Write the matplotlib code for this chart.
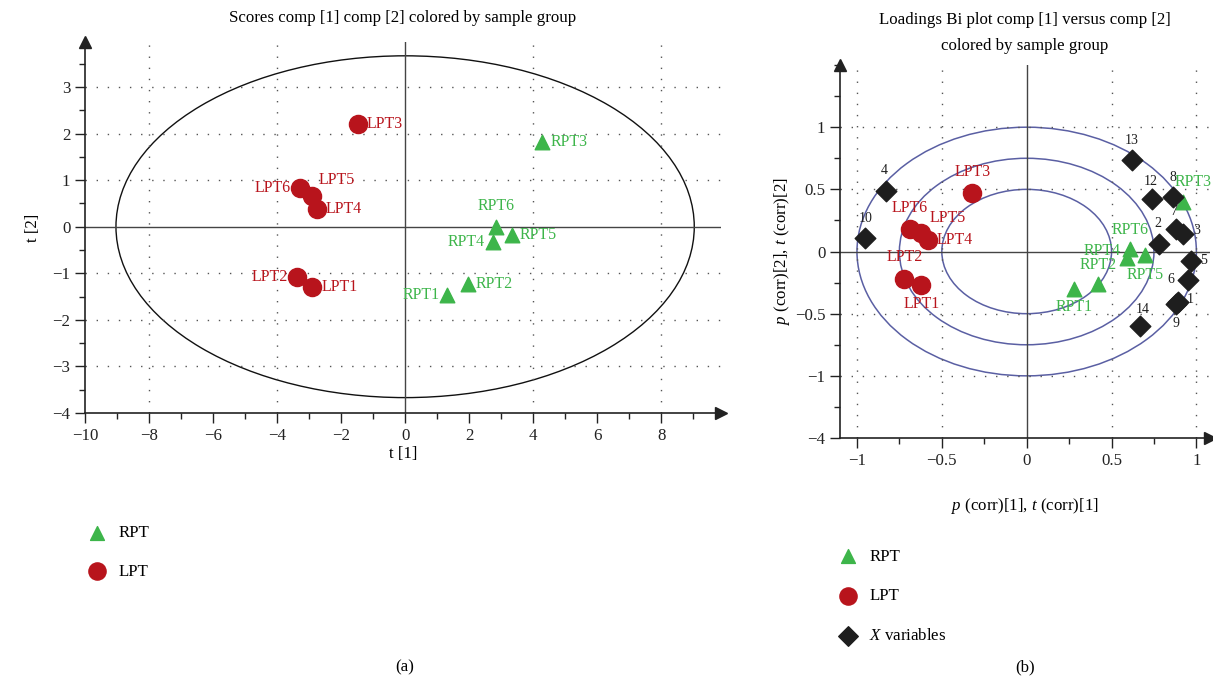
import numpy as np
import matplotlib
matplotlib.use("Agg")
import matplotlib.pyplot as plt
from matplotlib.patches import Ellipse
from matplotlib.ticker import MultipleLocator

plt.rcParams['font.family'] = ['Liberation Serif', 'DejaVu Serif']
plt.rcParams['mathtext.fontset'] = 'custom'
plt.rcParams['mathtext.rm'] = 'Liberation Serif'
plt.rcParams['mathtext.it'] = 'Liberation Serif:italic'

# ---- data: scores plot (a) ----
lpt_names = ["LPT1", "LPT2", "LPT3", "LPT4", "LPT5", "LPT6"]
lpt_t1 = [-2.9, -3.38, -1.47, -2.75, -2.9, -3.28]
lpt_t2 = [-1.29, -1.07, 2.21, 0.39, 0.65, 0.84]
rpt_names = ["RPT1", "RPT2", "RPT3", "RPT4", "RPT5", "RPT6"]
rpt_t1 = [1.31, 1.97, 4.28, 2.75, 3.34, 2.84]
rpt_t2 = [-1.46, -1.24, 1.82, -0.32, -0.17, 0.0]
hotelling_a = 9.03
hotelling_b = 3.67

# ---- data: loadings bi plot (b) ----
lpt_p1 = [-0.62, -0.72, -0.32, -0.58, -0.62, -0.69]
lpt_p2 = [-0.27, -0.22, 0.47, 0.09, 0.15, 0.18]
rpt_p1 = [0.28, 0.42, 0.92, 0.59, 0.70, 0.61]
rpt_p2 = [-0.30, -0.26, 0.40, -0.05, -0.03, 0.02]
xvar_names = ["1", "2", "3", "4", "5", "6", "7", "8", "9", "10", "12", "13", "14"]
xvar_p1 = [0.89, 0.78, 0.92, -0.83, 0.97, 0.95, 0.88, 0.86, 0.88, -0.95, 0.74, 0.62, 0.67]
xvar_p2 = [-0.41, 0.06, 0.14, 0.49, -0.08, -0.23, 0.18, 0.44, -0.42, 0.11, 0.42, 0.74, -0.60]
circle_radii = [0.5, 0.75, 1.0]
b_yticks = [-1.5, -1, -0.5, 0, 0.5, 1]
b_yticklabels = ["\u22124", "\u22121", "\u22120.5", "0", "0.5", "1"]

GREEN = "#3db54a"
RED = "#b8141c"
BLACK = "#1e1e1e"
ELL = "#5a5fa3"
GRID = "#555555"
FS = 12.2

fig = plt.figure(figsize=(12.13, 6.86), dpi=100)
axa = fig.add_axes([0.070, 0.398, 0.524, 0.541])
axb = fig.add_axes([0.6925, 0.3615, 0.305, 0.5437])


def style_axes(ax):
    for s in ["top", "right"]:
        ax.spines[s].set_visible(False)
    for s in ["left", "bottom"]:
        ax.spines[s].set_color("#222222")
        ax.spines[s].set_linewidth(1.2)
    ax.tick_params(which="major", direction="out", length=7, width=1, labelsize=FS, colors="#222222")
    ax.tick_params(which="minor", direction="out", length=4, width=1, colors="#222222")
    ax.plot([1], [0], marker=">", color="#222222", markersize=8, transform=ax.transAxes, clip_on=False)
    ax.plot([0], [1], marker="^", color="#222222", markersize=8, transform=ax.transAxes, clip_on=False)


def label(ax, x, y, txt, dx, dy, color, ha="left", size=11.5):
    ax.annotate(txt, (x, y), xytext=(dx, dy), textcoords="offset pixels",
                ha=ha, va="center", color=color, fontsize=size)


# ---------------- (a) ----------------
axa.set_xlim(-10, 9.85)
axa.set_ylim(-4, 3.97)
style_axes(axa)
axa.xaxis.set_major_locator(MultipleLocator(2))
axa.xaxis.set_minor_locator(MultipleLocator(1))
axa.yaxis.set_major_locator(MultipleLocator(1))
axa.yaxis.set_minor_locator(MultipleLocator(0.5))
for gx in [-8, -4, 4, 8]:
    axa.axvline(gx, color=GRID, lw=1, ls=(0, (1, 7)))
for gy in [-3, -2, -1, 1, 2, 3]:
    axa.axhline(gy, color=GRID, lw=1, ls=(0, (1, 7)))
axa.axhline(0, color="#444444", lw=1)
axa.axvline(0, color="#444444", lw=1)
axa.add_patch(Ellipse((0, 0), 2 * hotelling_a, 2 * hotelling_b, fill=False, color="#111111", lw=1))

axa.scatter(rpt_t1, rpt_t2, marker="^", s=110, color=GREEN, zorder=3, label="RPT")
axa.scatter(lpt_t1, lpt_t2, marker="o", s=170, color=RED, zorder=3, label="LPT")

a_lpt_off = [(9, 0, "left"), (-9, 0, "right"), (9, 0, "left"), (9, 0, "left"), (6, 16, "left"), (-9, 0, "right")]
for x, y, n, (dx, dy, ha) in zip(lpt_t1, lpt_t2, lpt_names, a_lpt_off):
    label(axa, x, y, n, dx, dy, RED, ha)
a_rpt_off = [(-7, 0, "right"), (7, 0, "left"), (8, 0, "left"), (-8, 0, "right"), (8, 0, "left"), (0, 21, "center")]
for x, y, n, (dx, dy, ha) in zip(rpt_t1, rpt_t2, rpt_names, a_rpt_off):
    label(axa, x, y, n, dx, dy, GREEN, ha)

axa.set_title("Scores comp [1] comp [2] colored by sample group", fontsize=FS, pad=14)
axa.set_xlabel("t [1]", fontsize=FS, labelpad=2)
axa.set_ylabel("t [2]", fontsize=FS, labelpad=8)

leg_a = fig.legend(handles=axa.collections, labels=["RPT", "LPT"], loc="upper left",
                   bbox_to_anchor=(0.0536, 0.2566), frameon=False, fontsize=FS,
                   labelspacing=1.32, handletextpad=0.25, markerscale=0.95)

# ---------------- (b) ----------------
axb.set_xlim(-1.1, 1.08)
axb.set_ylim(-1.5, 1.5)
style_axes(axb)
axb.set_xticks([-1, -0.5, 0, 0.5, 1])
axb.set_xticklabels(["\u22121", "\u22120.5", "0", "0.5", "1"])
axb.xaxis.set_minor_locator(MultipleLocator(0.25))
axb.set_yticks(b_yticks)
axb.set_yticklabels(b_yticklabels)
axb.yaxis.set_minor_locator(MultipleLocator(0.25))
for gx in [-1, -0.5, 0.5, 1]:
    axb.axvline(gx, color=GRID, lw=1, ls=(0, (1, 7)))
for gy in [-1, -0.5, 0.5, 1]:
    axb.axhline(gy, color=GRID, lw=1, ls=(0, (1, 7)))
axb.axhline(0, color="#444444", lw=1)
axb.axvline(0, color="#444444", lw=1)
for r in circle_radii:
    axb.add_patch(Ellipse((0, 0), 2 * r, 2 * r, fill=False, color=ELL, lw=1.1))

axb.scatter(rpt_p1, rpt_p2, marker="^", s=110, color=GREEN, zorder=3)
axb.scatter(lpt_p1, lpt_p2, marker="o", s=170, color=RED, zorder=3)
axb.scatter(xvar_p1, xvar_p2, marker="D", s=110, color=BLACK, zorder=3)

b_lpt_off = [(0, -19, "center"), (0, 22, "center"), (0, 21, "center"), (8, 0, "left"), (26, 15, "center"), (0, 21, "center")]
for x, y, n, (dx, dy, ha) in zip(lpt_p1, lpt_p2, lpt_names, b_lpt_off):
    label(axb, x, y, n, dx, dy, RED, ha)
b_rpt_off = [(0, -18, "center"), (0, 19, "center"), (10, 20, "center"), (-25, 7, "center"), (0, -20, "center"), (0, 19, "center")]
for x, y, n, (dx, dy, ha) in zip(rpt_p1, rpt_p2, rpt_names, b_rpt_off):
    label(axb, x, y, n, dx, dy, GREEN, ha)
b_x_off = [(13, 3, "center"), (-1, 21, "center"), (14, 4, "center"), (-2, 20, "center"), (12, 1, "center"),
           (-17, 1, "center"), (-2, 18, "center"), (0, 19, "center"), (0, -20, "center"), (0, 19, "center"),
           (-2, 18, "center"), (0, 19, "center"), (2, 17, "center")]
for x, y, n, (dx, dy, ha) in zip(xvar_p1, xvar_p2, xvar_names, b_x_off):
    label(axb, x, y, n, dx, dy, BLACK, ha, size=10)

axb.set_title("Loadings Bi plot comp [1] versus comp [2]\ncolored by sample group", fontsize=FS,
              pad=11, linespacing=1.8)
axb.set_xlabel(r"$\it{p}$ (corr)[1], $\it{t}$ (corr)[1]", fontsize=FS, labelpad=20)
axb.set_ylabel(r"$\it{p}$ (corr)[2], $\it{t}$ (corr)[2]", fontsize=FS, labelpad=2)

leg_b = fig.legend(handles=axb.collections, labels=["RPT", "LPT", r"$\it{X}$ variables"], loc="upper left",
                   bbox_to_anchor=(0.6727, 0.2223), frameon=False, fontsize=FS,
                   labelspacing=1.4, handletextpad=0.25, markerscale=0.95)

fig.text(405 / 1213, 1 - 667 / 686, "(a)", ha="center", va="center", fontsize=FS)
fig.text(1025 / 1213, 1 - 667 / 686, "(b)", ha="center", va="center", fontsize=FS)

fig.savefig("out.png", dpi=100)
